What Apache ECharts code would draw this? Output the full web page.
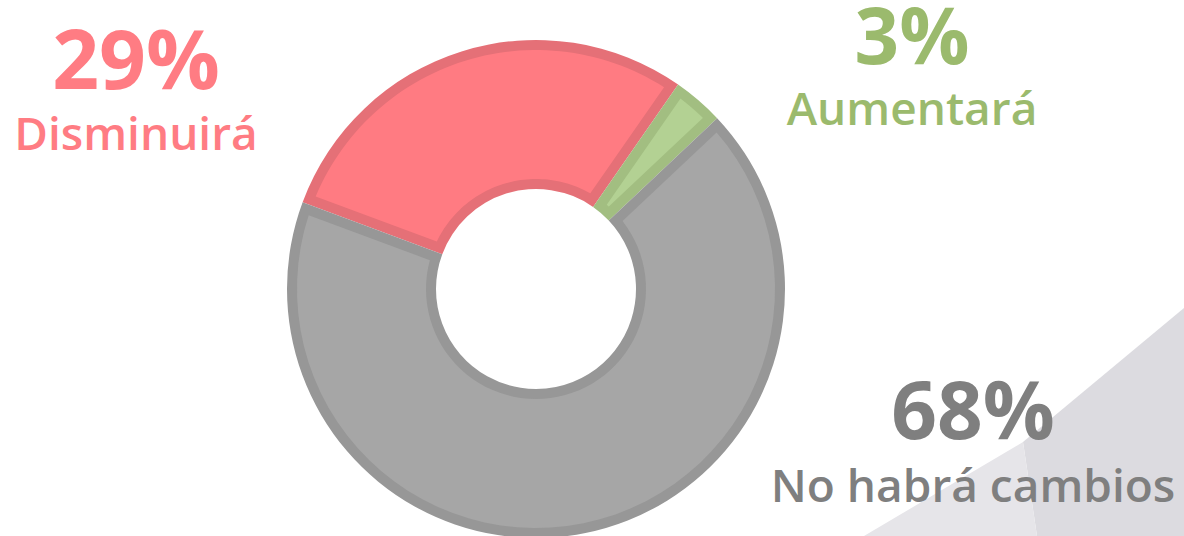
<!DOCTYPE html>
<html>
<head>
<meta charset="utf-8">
<script src="https://cdn.jsdelivr.net/npm/echarts@6/dist/echarts.min.js"></script>
<style>
  html, body { margin: 0; padding: 0; background: #fff; }
  #chart { width: 1184px; height: 536px; }
</style>
</head>
<body>
<div id="chart"></div>
<script>
// datos del gráfico
const categories = ['Disminuirá', 'Aumentará', 'No habrá cambios'];
const values = [29, 3.3, 67.7];
const pctLabels = ['29%', '3%', '68%'];
const fillColors = ['#FF7B82', '#B3D193', '#A6A6A6'];
const edgeColors = ['#E57077', '#A2BE81', '#979797'];

const CX = 536, CY = 289;
const R_OUT = 249, R_IN = 100, EDGE = 10;
const START = 159.6;

let myChart = echarts.init(document.getElementById('chart'), null, { renderer: 'svg' });

// relleno interior de cada sector (el borde queda por dentro, como en la imagen)
function renderFill(params, api) {
	let i = params.dataIndex;
	let total = values.reduce((a, b) => a + b, 0);
	let before = 0;
	for (let k = 0; k < i; k++) before += values[k];
	let a1 = START - before / total * 360;
	let a2 = a1 - values[i] / total * 360;
	let ro = R_OUT - EDGE, ri = R_IN + EDGE;
	let dOut = Math.asin(EDGE / ro) * 180 / Math.PI;
	let dIn = Math.asin(EDGE / ri) * 180 / Math.PI;
	let pts = [];
	let steps = 60;
	let o1 = a1 - dOut, o2 = a2 + dOut;
	for (let s = 0; s <= steps; s++) {
		let a = (o1 + (o2 - o1) * s / steps) * Math.PI / 180;
		pts.push([CX + ro * Math.cos(a), CY - ro * Math.sin(a)]);
	}
	let i1 = a1 - dIn, i2 = a2 + dIn;
	if (i2 > i1) { let m = (i1 + i2) / 2; i1 = m; i2 = m; }
	for (let s = steps; s >= 0; s--) {
		let a = (i1 + (i2 - i1) * s / steps) * Math.PI / 180;
		pts.push([CX + ri * Math.cos(a), CY - ri * Math.sin(a)]);
	}
	return {
		type: 'polygon',
		shape: { points: pts },
		style: { fill: fillColors[i] }
	};
}

// centro vertical de las mayúsculas de cada texto
const labelPos = [
	{ x: 136, pctY: 57, nameY: 132, pctSize: 82 },
	{ x: 912, pctY: 34, nameY: 107, pctSize: 78 },
	{ x: 973, pctY: 407, nameY: 484, pctSize: 80 }
];
const labelColors = ['#FF7C83', '#9BBA6D', '#7F7F7F'];

let texts = [];
categories.forEach((name, i) => {
	let p = labelPos[i];
	texts.push({
		type: 'text', x: p.x, y: p.pctY, z: 10,
		style: {
			text: pctLabels[i], fill: labelColors[i], align: 'center', verticalAlign: 'middle',
			font: 'bold ' + p.pctSize + 'px "Open Sans"', lineHeight: 60
		}
	});
	texts.push({
		type: 'text', x: p.x, y: p.nameY, z: 10,
		style: {
			text: name, fill: labelColors[i], align: 'center', verticalAlign: 'middle',
			font: '600 46px "Open Sans"', lineHeight: 36
		}
	});
});

myChart.setOption({
	animation: false,
	backgroundColor: '#fff',
	graphic: [
		// fondo gris abajo a la derecha
		{
			type: 'polygon', z: -5, silent: true,
			shape: { points: [[1184, 308], [1023, 442], [1037, 536], [1184, 536]] },
			style: { fill: '#DCDBE0' }
		},
		{
			type: 'polygon', z: -5, silent: true,
			shape: { points: [[1023, 442], [864, 536], [1037, 536]] },
			style: { fill: '#E6E5E9' }
		}
	].concat(texts),
	series: [
		{
			type: 'pie',
			silent: true,
			center: [CX, CY],
			radius: [R_IN, R_OUT],
			startAngle: START,
			clockwise: true,
			label: { show: false },
			labelLine: { show: false },
			itemStyle: { borderWidth: 0 },
			data: values.map((v, i) => ({ value: v, name: categories[i], itemStyle: { color: edgeColors[i] } }))
		},
		{
			type: 'custom',
			coordinateSystem: 'none',
			silent: true,
			z: 3,
			renderItem: renderFill,
			data: values.map((v, i) => [i, v])
		}
	]
});
</script>
</body>
</html>
